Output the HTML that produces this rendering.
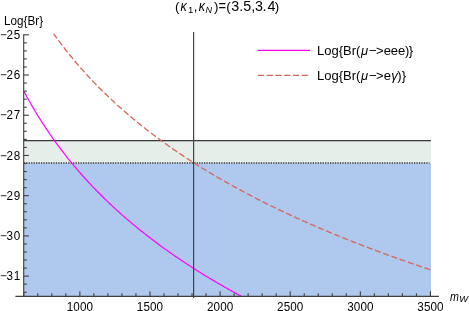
<!DOCTYPE html>
<html><head><meta charset="utf-8"><title>plot</title>
<style>
html,body{margin:0;padding:0;background:#fff;}
body{width:469px;height:311px;overflow:hidden;}
svg{display:block;}
text{font-family:"Liberation Sans",sans-serif;fill:#000;}
svg{will-change:transform;}
</style></head><body>
<svg width="469" height="311" viewBox="0 0 469 311">
<rect width="469" height="311" fill="#fff"/>
<rect x="23.7" y="140.55" width="407.3" height="22.649999999999977" fill="#e5eee9"/>
<rect x="23.7" y="163.2" width="407.3" height="133.2" fill="#afc8ed"/>
<line x1="23.7" y1="140.55" x2="431.0" y2="140.55" stroke="#3a3a3a" stroke-width="1.3"/>
<line x1="23.7" y1="163.0" x2="429.5" y2="163.0" stroke="#3a3530" stroke-width="1.6" stroke-dasharray="1.3 1.17"/>
<path d="M23.9,91.25 L24.9,93.13 L25.9,94.98 L26.9,96.82 L27.9,98.63 L28.9,100.42 L29.9,102.19 L30.9,103.95 L31.9,105.68 L32.9,107.40 L33.9,109.10 L34.9,110.78 L35.9,112.44 L36.9,114.09 L37.9,115.72 L38.9,117.33 L39.9,118.93 L40.9,120.51 L41.9,122.08 L42.9,123.63 L43.9,125.17 L44.9,126.69 L45.9,128.20 L46.9,129.69 L47.9,131.18 L48.9,132.64 L49.9,134.10 L50.9,135.54 L51.9,136.97 L52.9,138.39 L53.9,139.79 L54.9,141.18 L55.9,142.57 L56.9,143.93 L57.9,145.29 L58.9,146.64 L59.9,147.97 L60.9,149.30 L61.9,150.61 L62.9,151.92 L63.9,153.21 L64.9,154.49 L65.9,155.77 L66.9,157.03 L67.9,158.28 L68.9,159.53 L69.9,160.76 L70.9,161.99 L71.9,163.20 L72.9,164.41 L73.9,165.61 L74.9,166.80 L75.9,167.98 L76.9,169.15 L77.9,170.31 L78.9,171.47 L79.9,172.62 L80.9,173.76 L81.9,174.89 L82.9,176.01 L83.9,177.13 L84.9,178.24 L85.9,179.34 L86.9,180.43 L87.9,181.52 L88.9,182.60 L89.9,183.67 L90.9,184.73 L91.9,185.79 L92.9,186.84 L93.9,187.89 L94.9,188.93 L95.9,189.96 L96.9,190.98 L97.9,192.00 L98.9,193.02 L99.9,194.02 L100.9,195.02 L101.9,196.02 L102.9,197.00 L103.9,197.99 L104.9,198.96 L105.9,199.93 L106.9,200.90 L107.9,201.86 L108.9,202.81 L109.9,203.76 L110.9,204.70 L111.9,205.64 L112.9,206.57 L113.9,207.50 L114.9,208.42 L115.9,209.33 L116.9,210.24 L117.9,211.15 L118.9,212.05 L119.9,212.95 L120.9,213.84 L121.9,214.73 L122.9,215.61 L123.9,216.48 L124.9,217.36 L125.9,218.22 L126.9,219.09 L127.9,219.95 L128.9,220.80 L129.9,221.65 L130.9,222.50 L131.9,223.34 L132.9,224.17 L133.9,225.01 L134.9,225.83 L135.9,226.66 L136.9,227.48 L137.9,228.29 L138.9,229.11 L139.9,229.91 L140.9,230.72 L141.9,231.52 L142.9,232.31 L143.9,233.11 L144.9,233.89 L145.9,234.68 L146.9,235.46 L147.9,236.24 L148.9,237.01 L149.9,237.78 L150.9,238.55 L151.9,239.31 L152.9,240.07 L153.9,240.83 L154.9,241.58 L155.9,242.33 L156.9,243.07 L157.9,243.81 L158.9,244.55 L159.9,245.29 L160.9,246.02 L161.9,246.75 L162.9,247.48 L163.9,248.20 L164.9,248.92 L165.9,249.63 L166.9,250.35 L167.9,251.06 L168.9,251.77 L169.9,252.47 L170.9,253.17 L171.9,253.87 L172.9,254.56 L173.9,255.26 L174.9,255.95 L175.9,256.63 L176.9,257.32 L177.9,258.00 L178.9,258.67 L179.9,259.35 L180.9,260.02 L181.9,260.69 L182.9,261.36 L183.9,262.02 L184.9,262.68 L185.9,263.34 L186.9,264.00 L187.9,264.65 L188.9,265.30 L189.9,265.95 L190.9,266.60 L191.9,267.24 L192.9,267.88 L193.9,268.52 L194.9,269.16 L195.9,269.79 L196.9,270.42 L197.9,271.05 L198.9,271.68 L199.9,272.30 L200.9,272.92 L201.9,273.54 L202.9,274.16 L203.9,274.78 L204.9,275.39 L205.9,276.00 L206.9,276.61 L207.9,277.21 L208.9,277.82 L209.9,278.42 L210.9,279.02 L211.9,279.61 L212.9,280.21 L213.9,280.80 L214.9,281.39 L215.9,281.98 L216.9,282.57 L217.9,283.15 L218.9,283.73 L219.9,284.31 L220.9,284.89 L221.9,285.47 L222.9,286.04 L223.9,286.61 L224.9,287.18 L225.9,287.75 L226.9,288.32 L227.9,288.88 L228.9,289.44 L229.9,290.00 L230.9,290.56 L231.9,291.12 L232.9,291.67 L233.9,292.23 L234.9,292.78 L235.9,293.33 L236.9,293.88 L237.9,294.42 L238.9,294.96 L239.9,295.51 L240.9,296.05 L241.6,296.40" fill="none" stroke="#ff00ff" stroke-width="1.2"/>
<path d="M53.7,33.80 L54.0,34.28 L55.0,35.67 L56.0,37.05 L57.0,38.42 L58.0,39.78 L59.0,41.13 L60.0,42.46 L61.0,43.79 L62.0,45.10 L63.0,46.41 L64.0,47.70 L65.0,48.98 L66.0,50.26 L67.0,51.52 L68.0,52.77 L69.0,54.02 L70.0,55.25 L71.0,56.48 L72.0,57.69 L73.0,58.90 L74.0,60.10 L75.0,61.29 L76.0,62.47 L77.0,63.64 L78.0,64.81 L79.0,65.96 L80.0,67.11 L81.0,68.25 L82.0,69.38 L83.0,70.50 L84.0,71.62 L85.0,72.73 L86.0,73.83 L87.0,74.92 L88.0,76.01 L89.0,77.09 L90.0,78.16 L91.0,79.22 L92.0,80.28 L93.0,81.33 L94.0,82.38 L95.0,83.42 L96.0,84.45 L97.0,85.47 L98.0,86.49 L99.0,87.50 L100.0,88.51 L101.0,89.51 L102.0,90.50 L103.0,91.49 L104.0,92.47 L105.0,93.45 L106.0,94.42 L107.0,95.38 L108.0,96.34 L109.0,97.29 L110.0,98.24 L111.0,99.18 L112.0,100.12 L113.0,101.05 L114.0,101.98 L115.0,102.90 L116.0,103.81 L117.0,104.72 L118.0,105.63 L119.0,106.53 L120.0,107.43 L121.0,108.32 L122.0,109.20 L123.0,110.08 L124.0,110.96 L125.0,111.83 L126.0,112.70 L127.0,113.56 L128.0,114.42 L129.0,115.27 L130.0,116.12 L131.0,116.96 L132.0,117.81 L133.0,118.64 L134.0,119.47 L135.0,120.30 L136.0,121.12 L137.0,121.94 L138.0,122.76 L139.0,123.57 L140.0,124.38 L141.0,125.18 L142.0,125.98 L143.0,126.77 L144.0,127.57 L145.0,128.35 L146.0,129.14 L147.0,129.92 L148.0,130.69 L149.0,131.47 L150.0,132.24 L151.0,133.00 L152.0,133.76 L153.0,134.52 L154.0,135.28 L155.0,136.03 L156.0,136.78 L157.0,137.52 L158.0,138.26 L159.0,139.00 L160.0,139.73 L161.0,140.47 L162.0,141.19 L163.0,141.92 L164.0,142.64 L165.0,143.36 L166.0,144.07 L167.0,144.79 L168.0,145.50 L169.0,146.20 L170.0,146.90 L171.0,147.60 L172.0,148.30 L173.0,149.00 L174.0,149.69 L175.0,150.38 L176.0,151.06 L177.0,151.74 L178.0,152.42 L179.0,153.10 L180.0,153.77 L181.0,154.45 L182.0,155.11 L183.0,155.78 L184.0,156.44 L185.0,157.10 L186.0,157.76 L187.0,158.42 L188.0,159.07 L189.0,159.72 L190.0,160.37 L191.0,161.01 L192.0,161.66 L193.0,162.30 L194.0,162.93 L195.0,163.57 L196.0,164.20 L197.0,164.83 L198.0,165.46 L199.0,166.08 L200.0,166.71 L201.0,167.33 L202.0,167.95 L203.0,168.56 L204.0,169.18 L205.0,169.79 L206.0,170.40 L207.0,171.00 L208.0,171.61 L209.0,172.21 L210.0,172.81 L211.0,173.41 L212.0,174.00 L213.0,174.60 L214.0,175.19 L215.0,175.78 L216.0,176.37 L217.0,176.95 L218.0,177.53 L219.0,178.11 L220.0,178.69 L221.0,179.27 L222.0,179.85 L223.0,180.42 L224.0,180.99 L225.0,181.56 L226.0,182.13 L227.0,182.69 L228.0,183.25 L229.0,183.81 L230.0,184.37 L231.0,184.93 L232.0,185.49 L233.0,186.04 L234.0,186.59 L235.0,187.14 L236.0,187.69 L237.0,188.24 L238.0,188.78 L239.0,189.32 L240.0,189.87 L241.0,190.40 L242.0,190.94 L243.0,191.48 L244.0,192.01 L245.0,192.54 L246.0,193.07 L247.0,193.60 L248.0,194.13 L249.0,194.65 L250.0,195.18 L251.0,195.70 L252.0,196.22 L253.0,196.74 L254.0,197.26 L255.0,197.77 L256.0,198.29 L257.0,198.80 L258.0,199.31 L259.0,199.82 L260.0,200.33 L261.0,200.83 L262.0,201.34 L263.0,201.84 L264.0,202.34 L265.0,202.84 L266.0,203.34 L267.0,203.83 L268.0,204.33 L269.0,204.82 L270.0,205.32 L271.0,205.81 L272.0,206.30 L273.0,206.78 L274.0,207.27 L275.0,207.76 L276.0,208.24 L277.0,208.72 L278.0,209.20 L279.0,209.68 L280.0,210.16 L281.0,210.64 L282.0,211.11 L283.0,211.59 L284.0,212.06 L285.0,212.53 L286.0,213.00 L287.0,213.47 L288.0,213.94 L289.0,214.40 L290.0,214.87 L291.0,215.33 L292.0,215.79 L293.0,216.25 L294.0,216.71 L295.0,217.17 L296.0,217.63 L297.0,218.08 L298.0,218.54 L299.0,218.99 L300.0,219.44 L301.0,219.89 L302.0,220.34 L303.0,220.79 L304.0,221.24 L305.0,221.68 L306.0,222.13 L307.0,222.57 L308.0,223.01 L309.0,223.45 L310.0,223.89 L311.0,224.33 L312.0,224.77 L313.0,225.20 L314.0,225.64 L315.0,226.07 L316.0,226.51 L317.0,226.94 L318.0,227.37 L319.0,227.80 L320.0,228.23 L321.0,228.65 L322.0,229.08 L323.0,229.50 L324.0,229.93 L325.0,230.35 L326.0,230.77 L327.0,231.19 L328.0,231.61 L329.0,232.03 L330.0,232.45 L331.0,232.87 L332.0,233.28 L333.0,233.70 L334.0,234.11 L335.0,234.52 L336.0,234.93 L337.0,235.34 L338.0,235.75 L339.0,236.16 L340.0,236.57 L341.0,236.97 L342.0,237.38 L343.0,237.78 L344.0,238.19 L345.0,238.59 L346.0,238.99 L347.0,239.39 L348.0,239.79 L349.0,240.19 L350.0,240.58 L351.0,240.98 L352.0,241.38 L353.0,241.77 L354.0,242.16 L355.0,242.56 L356.0,242.95 L357.0,243.34 L358.0,243.73 L359.0,244.12 L360.0,244.51 L361.0,244.89 L362.0,245.28 L363.0,245.67 L364.0,246.05 L365.0,246.43 L366.0,246.82 L367.0,247.20 L368.0,247.58 L369.0,247.96 L370.0,248.34 L371.0,248.72 L372.0,249.09 L373.0,249.47 L374.0,249.85 L375.0,250.22 L376.0,250.59 L377.0,250.97 L378.0,251.34 L379.0,251.71 L380.0,252.08 L381.0,252.45 L382.0,252.82 L383.0,253.19 L384.0,253.56 L385.0,253.92 L386.0,254.29 L387.0,254.65 L388.0,255.02 L389.0,255.38 L390.0,255.74 L391.0,256.10 L392.0,256.47 L393.0,256.83 L394.0,257.18 L395.0,257.54 L396.0,257.90 L397.0,258.26 L398.0,258.61 L399.0,258.97 L400.0,259.32 L401.0,259.68 L402.0,260.03 L403.0,260.38 L404.0,260.74 L405.0,261.09 L406.0,261.44 L407.0,261.79 L408.0,262.14 L409.0,262.48 L410.0,262.83 L411.0,263.18 L412.0,263.52 L413.0,263.87 L414.0,264.21 L415.0,264.56 L416.0,264.90 L417.0,265.24 L418.0,265.58 L419.0,265.92 L420.0,266.26 L421.0,266.60 L422.0,266.94 L423.0,267.28 L424.0,267.62 L425.0,267.95 L426.0,268.29 L427.0,268.62 L428.0,268.96 L429.0,269.29 L430.0,269.63" fill="none" stroke="#d86454" stroke-width="1.3" stroke-dasharray="6.1 2.65" stroke-dashoffset="0.6"/>
<line x1="193.6" y1="32.0" x2="193.6" y2="298" stroke="#444" stroke-width="1.2"/>
<g stroke="#3e3e3e" stroke-width="1.1">
<line x1="15.4" y1="296.4" x2="438.9" y2="296.4"/>
<line x1="23.7" y1="34.3" x2="23.7" y2="296.4"/>
<line x1="23.75" y1="296.4" x2="23.75" y2="293.30"/><line x1="37.77" y1="296.4" x2="37.77" y2="293.30"/><line x1="51.80" y1="296.4" x2="51.80" y2="293.30"/><line x1="65.82" y1="296.4" x2="65.82" y2="293.30"/><line x1="79.85" y1="296.4" x2="79.85" y2="291.20"/><line x1="93.87" y1="296.4" x2="93.87" y2="293.30"/><line x1="107.89" y1="296.4" x2="107.89" y2="293.30"/><line x1="121.92" y1="296.4" x2="121.92" y2="293.30"/><line x1="135.94" y1="296.4" x2="135.94" y2="293.30"/><line x1="149.97" y1="296.4" x2="149.97" y2="291.20"/><line x1="163.99" y1="296.4" x2="163.99" y2="293.30"/><line x1="178.01" y1="296.4" x2="178.01" y2="293.30"/><line x1="192.04" y1="296.4" x2="192.04" y2="293.30"/><line x1="206.06" y1="296.4" x2="206.06" y2="293.30"/><line x1="220.09" y1="296.4" x2="220.09" y2="291.20"/><line x1="234.11" y1="296.4" x2="234.11" y2="293.30"/><line x1="248.13" y1="296.4" x2="248.13" y2="293.30"/><line x1="262.16" y1="296.4" x2="262.16" y2="293.30"/><line x1="276.18" y1="296.4" x2="276.18" y2="293.30"/><line x1="290.21" y1="296.4" x2="290.21" y2="291.20"/><line x1="304.23" y1="296.4" x2="304.23" y2="293.30"/><line x1="318.25" y1="296.4" x2="318.25" y2="293.30"/><line x1="332.28" y1="296.4" x2="332.28" y2="293.30"/><line x1="346.30" y1="296.4" x2="346.30" y2="293.30"/><line x1="360.33" y1="296.4" x2="360.33" y2="291.20"/><line x1="374.35" y1="296.4" x2="374.35" y2="293.30"/><line x1="388.37" y1="296.4" x2="388.37" y2="293.30"/><line x1="402.40" y1="296.4" x2="402.40" y2="293.30"/><line x1="416.42" y1="296.4" x2="416.42" y2="293.30"/><line x1="430.45" y1="296.4" x2="430.45" y2="291.20"/>
<line x1="23.7" y1="34.80" x2="28.90" y2="34.80"/><line x1="23.7" y1="42.84" x2="26.80" y2="42.84"/><line x1="23.7" y1="50.89" x2="26.80" y2="50.89"/><line x1="23.7" y1="58.93" x2="26.80" y2="58.93"/><line x1="23.7" y1="66.98" x2="26.80" y2="66.98"/><line x1="23.7" y1="75.02" x2="28.90" y2="75.02"/><line x1="23.7" y1="83.06" x2="26.80" y2="83.06"/><line x1="23.7" y1="91.11" x2="26.80" y2="91.11"/><line x1="23.7" y1="99.15" x2="26.80" y2="99.15"/><line x1="23.7" y1="107.20" x2="26.80" y2="107.20"/><line x1="23.7" y1="115.24" x2="28.90" y2="115.24"/><line x1="23.7" y1="123.28" x2="26.80" y2="123.28"/><line x1="23.7" y1="131.33" x2="26.80" y2="131.33"/><line x1="23.7" y1="139.37" x2="26.80" y2="139.37"/><line x1="23.7" y1="147.42" x2="26.80" y2="147.42"/><line x1="23.7" y1="155.46" x2="28.90" y2="155.46"/><line x1="23.7" y1="163.50" x2="26.80" y2="163.50"/><line x1="23.7" y1="171.55" x2="26.80" y2="171.55"/><line x1="23.7" y1="179.59" x2="26.80" y2="179.59"/><line x1="23.7" y1="187.64" x2="26.80" y2="187.64"/><line x1="23.7" y1="195.68" x2="28.90" y2="195.68"/><line x1="23.7" y1="203.72" x2="26.80" y2="203.72"/><line x1="23.7" y1="211.77" x2="26.80" y2="211.77"/><line x1="23.7" y1="219.81" x2="26.80" y2="219.81"/><line x1="23.7" y1="227.86" x2="26.80" y2="227.86"/><line x1="23.7" y1="235.90" x2="28.90" y2="235.90"/><line x1="23.7" y1="243.94" x2="26.80" y2="243.94"/><line x1="23.7" y1="251.99" x2="26.80" y2="251.99"/><line x1="23.7" y1="260.03" x2="26.80" y2="260.03"/><line x1="23.7" y1="268.08" x2="26.80" y2="268.08"/><line x1="23.7" y1="276.12" x2="28.90" y2="276.12"/><line x1="23.7" y1="284.16" x2="26.80" y2="284.16"/><line x1="23.7" y1="292.21" x2="26.80" y2="292.21"/>
</g>
<text transform="translate(79.90,310.80) scale(1,1.025)" text-anchor="middle" font-size="11.7px" letter-spacing="0.1">1000</text><text transform="translate(150.02,310.80) scale(1,1.025)" text-anchor="middle" font-size="11.7px" letter-spacing="0.1">1500</text><text transform="translate(220.14,310.80) scale(1,1.025)" text-anchor="middle" font-size="11.7px" letter-spacing="0.1">2000</text><text transform="translate(290.26,310.80) scale(1,1.025)" text-anchor="middle" font-size="11.7px" letter-spacing="0.1">2500</text><text transform="translate(360.38,310.80) scale(1,1.025)" text-anchor="middle" font-size="11.7px" letter-spacing="0.1">3000</text><text transform="translate(430.50,310.80) scale(1,1.025)" text-anchor="middle" font-size="11.7px" letter-spacing="0.1">3500</text><text transform="translate(20.25,39.00) scale(1,1.035)" text-anchor="end" font-size="11.7px"><tspan dy="0.2">−</tspan><tspan dx="-0.13" dy="-0.2">2</tspan><tspan dx="0.65">5</tspan></text><text transform="translate(20.25,79.00) scale(1,1.035)" text-anchor="end" font-size="11.7px"><tspan dy="0.2">−</tspan><tspan dx="-0.13" dy="-0.2">2</tspan><tspan dx="0.65">6</tspan></text><text transform="translate(20.25,119.00) scale(1,1.035)" text-anchor="end" font-size="11.7px"><tspan dy="0.2">−</tspan><tspan dx="-0.13" dy="-0.2">2</tspan><tspan dx="0.65">7</tspan></text><text transform="translate(20.25,160.00) scale(1,1.035)" text-anchor="end" font-size="11.7px"><tspan dy="0.2">−</tspan><tspan dx="-0.13" dy="-0.2">2</tspan><tspan dx="0.65">8</tspan></text><text transform="translate(20.25,200.00) scale(1,1.035)" text-anchor="end" font-size="11.7px"><tspan dy="0.2">−</tspan><tspan dx="-0.13" dy="-0.2">2</tspan><tspan dx="0.65">9</tspan></text><text transform="translate(20.25,240.00) scale(1,1.035)" text-anchor="end" font-size="11.7px"><tspan dy="0.2">−</tspan><tspan dx="-0.13" dy="-0.2">3</tspan><tspan dx="0.65">0</tspan></text><text transform="translate(20.25,280.00) scale(1,1.035)" text-anchor="end" font-size="11.7px"><tspan dy="0.2">−</tspan><tspan dx="-0.13" dy="-0.2">3</tspan><tspan dx="0.65">1</tspan></text>
<text transform="translate(23.60,25.20) scale(1,1.04)" text-anchor="middle" font-size="11.7px">Log{Br}</text>
<text transform="translate(449.90,300.70) scale(0.955,1.085)" text-anchor="start" font-size="11.2px" font-style="italic">m</text><text transform="translate(459.30,302.25) scale(1.02,0.93)" text-anchor="start" font-size="9.2px" font-style="italic">W</text>
<text transform="translate(174.97,11.40) scale(1,1)" font-size="13.4px">(</text><text transform="translate(180.49,11.40) scale(0.88,1)" font-size="14.3px" font-style="italic">κ</text><text transform="translate(187.97,12.80) scale(1,1)" font-size="9.6px">1</text><text transform="translate(193.63,11.40) scale(1,1)" font-size="13px">,</text><text transform="translate(198.69,11.40) scale(0.88,1)" font-size="14.3px" font-style="italic">κ</text><text transform="translate(205.52,12.80) scale(0.95,1)" font-size="9.6px" font-style="italic">N</text><text transform="translate(214.02,11.40) scale(1,1)" font-size="13.4px">)</text><text transform="translate(218.47,11.40) scale(0.9,1)" font-size="14.3px">=</text><text transform="translate(226.17,11.40) scale(1,1)" font-size="13.4px">(</text><text transform="translate(231.26,11.40) scale(1,1)" font-size="14.3px">3</text><text transform="translate(239.15,11.40) scale(1,1)" font-size="14.3px">.</text><text transform="translate(243.33,11.40) scale(1,1)" font-size="14.3px">5</text><text transform="translate(251.36,11.40) scale(1,1)" font-size="14.3px">,</text><text transform="translate(255.01,11.40) scale(1,1)" font-size="14.3px">3</text><text transform="translate(262.55,11.40) scale(1,1)" font-size="14.3px">.</text><text transform="translate(267.47,11.40) scale(1,1)" font-size="14.3px">4</text><text transform="translate(274.72,11.40) scale(1,1)" font-size="13.4px">)</text>
<line x1="257.8" y1="50.3" x2="310.1" y2="50.3" stroke="#ff00ff" stroke-width="1.3"/>
<line x1="258" y1="75.4" x2="310.1" y2="75.4" stroke="#d86454" stroke-width="1.3" stroke-dasharray="6.1 2.65"/>
<text transform="translate(317.00,54.60) scale(1,1)" text-anchor="start" font-size="13px">Log{Br(<tspan font-style="italic" dx="0.5">μ</tspan><tspan dx="1.0">−</tspan><tspan dx="-0.56">&gt;</tspan>e<tspan dx="-0.2">e</tspan>e<tspan dx="-0.2">)</tspan><tspan dx="-0.4">}</tspan></text>
<text transform="translate(317.00,80.00) scale(1,1)" text-anchor="start" font-size="13px">Log{Br(<tspan font-style="italic" dx="0.5">μ</tspan><tspan dx="1.0">−</tspan><tspan dx="-0.56">&gt;</tspan>e<tspan dx="0.3" font-style="italic">γ</tspan><tspan dx="-0.45">)</tspan><tspan dx="0.1">}</tspan></text>
</svg>
</body></html>
